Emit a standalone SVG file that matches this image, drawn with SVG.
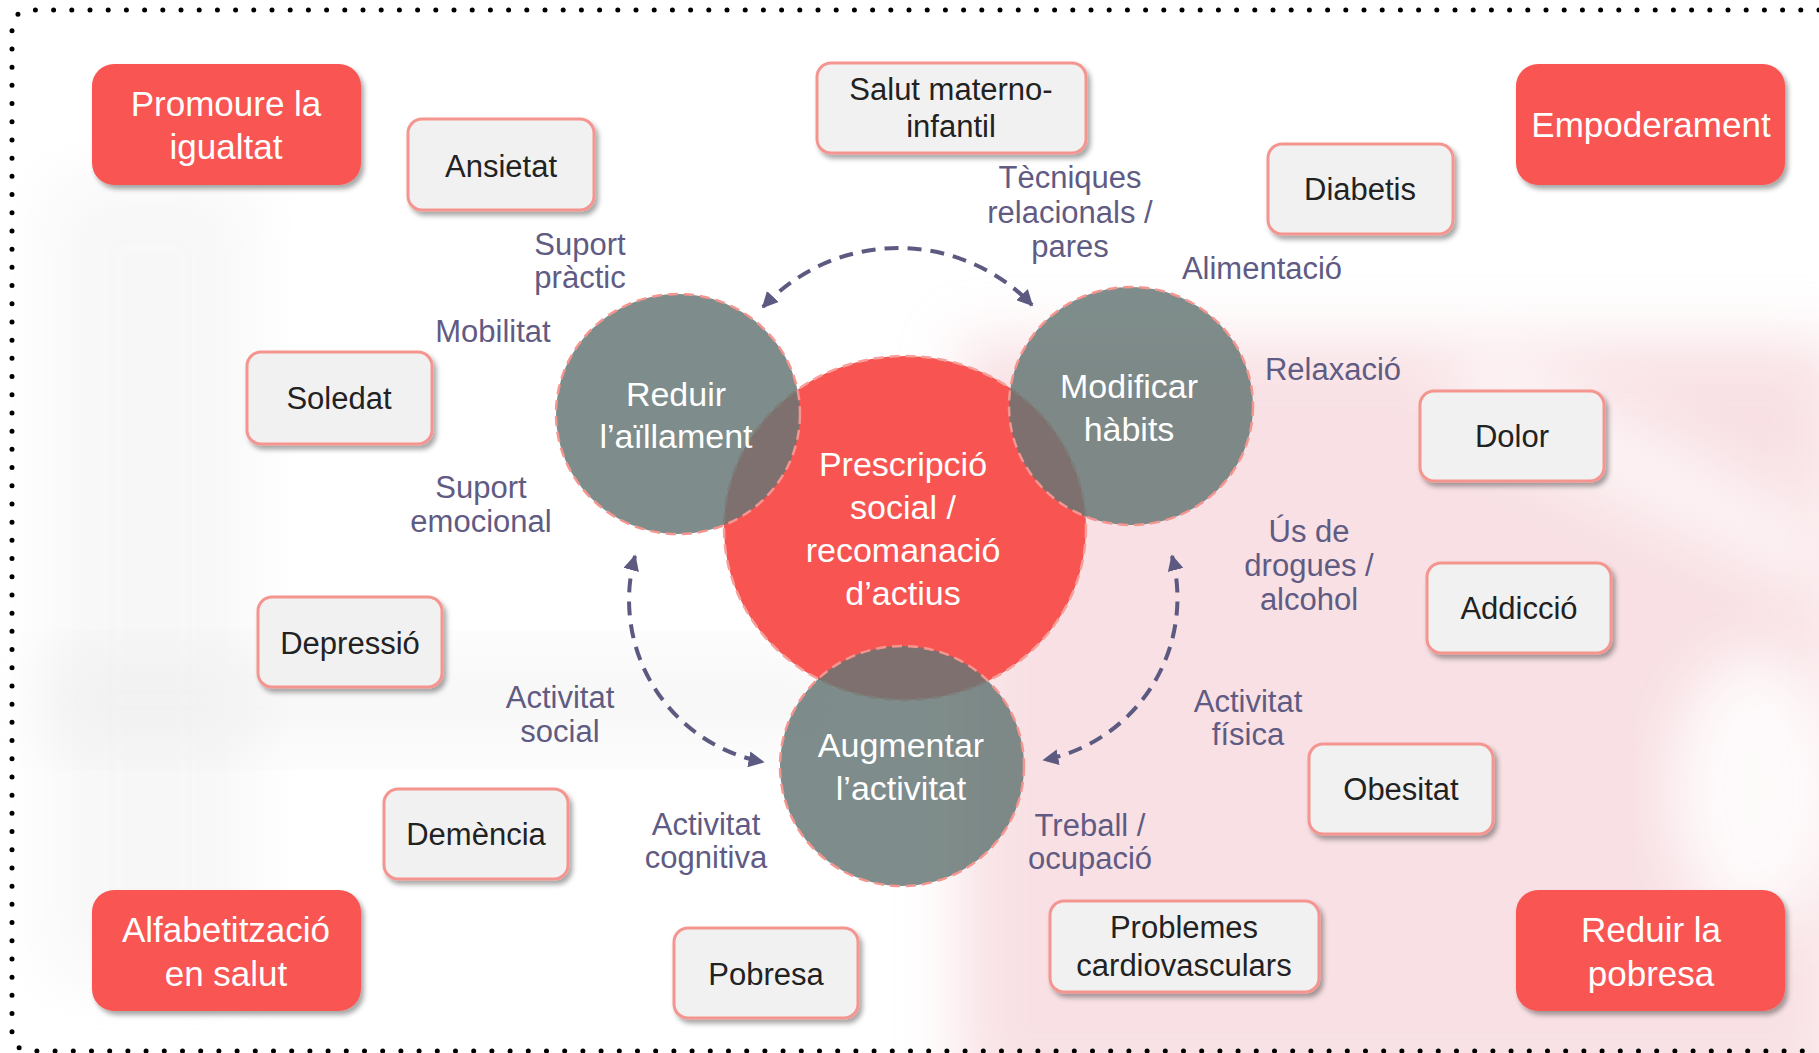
<svg xmlns="http://www.w3.org/2000/svg" width="1819" height="1053" viewBox="0 0 1819 1053">
<defs>
<style>
text{font-family:"Liberation Sans",Arial,sans-serif;text-anchor:middle}
.rbox{fill:#f85552;filter:url(#sh)}
.gbox{fill:#f1f1f1;stroke:#f59590;stroke-width:3;filter:url(#sh)}
.rt{font-size:35px;fill:#ffffff}
.gt{font-size:31px;fill:#222222}
.lb{font-size:31px;fill:#5f5b83}
.ct{font-size:34px;fill:#ffffff}
.circ{fill:#647674;fill-opacity:0.83;stroke:#f59590;stroke-width:2.5;stroke-dasharray:10 6}
.core{fill:#f85552;stroke:#f7a09b;stroke-width:2.5;stroke-dasharray:10 6}
.arc{fill:none;stroke:#5c5a80;stroke-width:4;stroke-dasharray:14 9;marker-start:url(#ah);marker-end:url(#ah)}
</style>
<filter id="sh" x="-10%" y="-10%" width="130%" height="140%">
<feDropShadow dx="3" dy="4" stdDeviation="2.5" flood-color="#000" flood-opacity="0.35"/>
</filter>
<filter id="bl" x="-20%" y="-20%" width="140%" height="140%">
<feGaussianBlur stdDeviation="30"/>
</filter>
<marker id="ah" viewBox="0 0 10 10" refX="9" refY="5" markerWidth="16" markerHeight="16" markerUnits="userSpaceOnUse" orient="auto-start-reverse">
<path d="M0,0 L10,5 L0,10 z" fill="#5c5a80"/>
</marker>
</defs>
<rect width="1819" height="1053" fill="#ffffff"/>
<g id="background">
<rect x="960" y="340" width="880" height="760" fill="#f2c3ca" opacity="0.5" filter="url(#bl)"/>
<path d="M1480,330 L1819,520 L1819,600 L1440,420 z" fill="#ffffff" opacity="0.6" filter="url(#bl)"/>
<ellipse cx="1755" cy="790" rx="85" ry="140" fill="#ffffff" opacity="0.85" filter="url(#bl)"/>
<rect x="50" y="180" width="200" height="800" fill="#d9d9d9" opacity="0.2" filter="url(#bl)"/>
<rect x="40" y="650" width="800" height="100" fill="#d9d9d9" opacity="0.2" filter="url(#bl)"/>
</g>
<path id="border" d="M1819,10 L32,10 Q12,10 12,30 L12,1031 Q12,1051 32,1051 L1819,1051" fill="none" stroke="#000" stroke-width="5" stroke-linecap="round" stroke-dasharray="0 18.2"/>

<g id="core-shapes">
<ellipse class="core" cx="905" cy="528" rx="181" ry="172"/>
<ellipse class="circ" cx="678" cy="414" rx="122" ry="120"/>
<ellipse class="circ" cx="1131" cy="406" rx="122" ry="119"/>
<ellipse class="circ" cx="902" cy="766" rx="122" ry="120"/>
</g>

<g id="connectors">
<path class="arc" d="M763,307 A185,185 0 0 1 1032,305"/>
<path class="arc" d="M635,556 A165,165 0 0 0 763,762"/>
<path class="arc" d="M1172,556 A165,165 0 0 1 1044,760"/>
</g>

<g id="prescripcio"><text class="ct"><tspan x="903" y="476">Prescripció</tspan><tspan x="903" y="519">social /</tspan><tspan x="903" y="562">recomanació</tspan><tspan x="903" y="605">d’actius</tspan></text></g>
<g id="reduir-aillament"><text class="ct"><tspan x="676" y="406">Reduir</tspan><tspan x="676" y="448">l’aïllament</tspan></text></g>
<g id="modificar-habits"><text class="ct"><tspan x="1129" y="398">Modificar</tspan><tspan x="1129" y="441">hàbits</tspan></text></g>
<g id="augmentar-activitat"><text class="ct"><tspan x="901" y="757">Augmentar</tspan><tspan x="901" y="800">l’activitat</tspan></text></g>

<g id="promoure"><rect class="rbox" x="92" y="64" width="269" height="121" rx="22"/><text class="rt"><tspan x="226" y="116">Promoure la</tspan><tspan x="226" y="159">igualtat</tspan></text></g>
<g id="empoderament"><rect class="rbox" x="1516" y="64" width="269" height="121" rx="22"/><text class="rt" x="1651" y="137">Empoderament</text></g>
<g id="alfabetitzacio"><rect class="rbox" x="92" y="890" width="269" height="121" rx="22"/><text class="rt"><tspan x="226" y="942">Alfabetització</tspan><tspan x="226" y="986">en salut</tspan></text></g>
<g id="reduir-pobresa"><rect class="rbox" x="1516" y="890" width="269" height="121" rx="22"/><text class="rt"><tspan x="1651" y="942">Reduir la</tspan><tspan x="1651" y="986">pobresa</tspan></text></g>

<g id="salut-materno"><rect class="gbox" x="817" y="63" width="269" height="90" rx="14"/><text class="gt"><tspan x="951" y="100">Salut materno-</tspan><tspan x="951" y="137">infantil</tspan></text></g>
<g id="ansietat"><rect class="gbox" x="408" y="119" width="186" height="91" rx="14"/><text class="gt" x="501" y="177">Ansietat</text></g>
<g id="diabetis"><rect class="gbox" x="1268" y="144" width="185" height="90" rx="14"/><text class="gt" x="1360" y="200">Diabetis</text></g>
<g id="soledat"><rect class="gbox" x="247" y="352" width="185" height="92" rx="14"/><text class="gt" x="339" y="409">Soledat</text></g>
<g id="dolor"><rect class="gbox" x="1420" y="391" width="184" height="90" rx="14"/><text class="gt" x="1512" y="447">Dolor</text></g>
<g id="depressio"><rect class="gbox" x="258" y="597" width="184" height="90" rx="14"/><text class="gt" x="350" y="654">Depressió</text></g>
<g id="addiccio"><rect class="gbox" x="1427" y="563" width="184" height="90" rx="14"/><text class="gt" x="1519" y="619">Addicció</text></g>
<g id="demencia"><rect class="gbox" x="384" y="789" width="184" height="90" rx="14"/><text class="gt" x="476" y="845">Demència</text></g>
<g id="obesitat"><rect class="gbox" x="1309" y="744" width="184" height="90" rx="14"/><text class="gt" x="1401" y="800">Obesitat</text></g>
<g id="pobresa"><rect class="gbox" x="674" y="928" width="184" height="90" rx="14"/><text class="gt" x="766" y="985">Pobresa</text></g>
<g id="cardiovasculars"><rect class="gbox" x="1050" y="901" width="269" height="91" rx="14"/><text class="gt"><tspan x="1184" y="938">Problemes</tspan><tspan x="1184" y="976">cardiovasculars</tspan></text></g>

<g id="labels">
<text class="lb"><tspan x="580" y="255">Suport</tspan><tspan x="580" y="288">pràctic</tspan></text>
<text class="lb" x="493" y="342">Mobilitat</text>
<text class="lb"><tspan x="481" y="498">Suport</tspan><tspan x="481" y="532">emocional</tspan></text>
<text class="lb"><tspan x="1070" y="188">Tècniques</tspan><tspan x="1070" y="223">relacionals /</tspan><tspan x="1070" y="257">pares</tspan></text>
<text class="lb" x="1262" y="279">Alimentació</text>
<text class="lb" x="1333" y="380">Relaxació</text>
<text class="lb"><tspan x="1309" y="542">Ús de</tspan><tspan x="1309" y="576">drogues /</tspan><tspan x="1309" y="610">alcohol</tspan></text>
<text class="lb"><tspan x="560" y="708">Activitat</tspan><tspan x="560" y="742">social</tspan></text>
<text class="lb"><tspan x="1248" y="712">Activitat</tspan><tspan x="1248" y="745">física</tspan></text>
<text class="lb"><tspan x="706" y="835">Activitat</tspan><tspan x="706" y="868">cognitiva</tspan></text>
<text class="lb"><tspan x="1090" y="836">Treball /</tspan><tspan x="1090" y="869">ocupació</tspan></text>
</g>
</svg>
